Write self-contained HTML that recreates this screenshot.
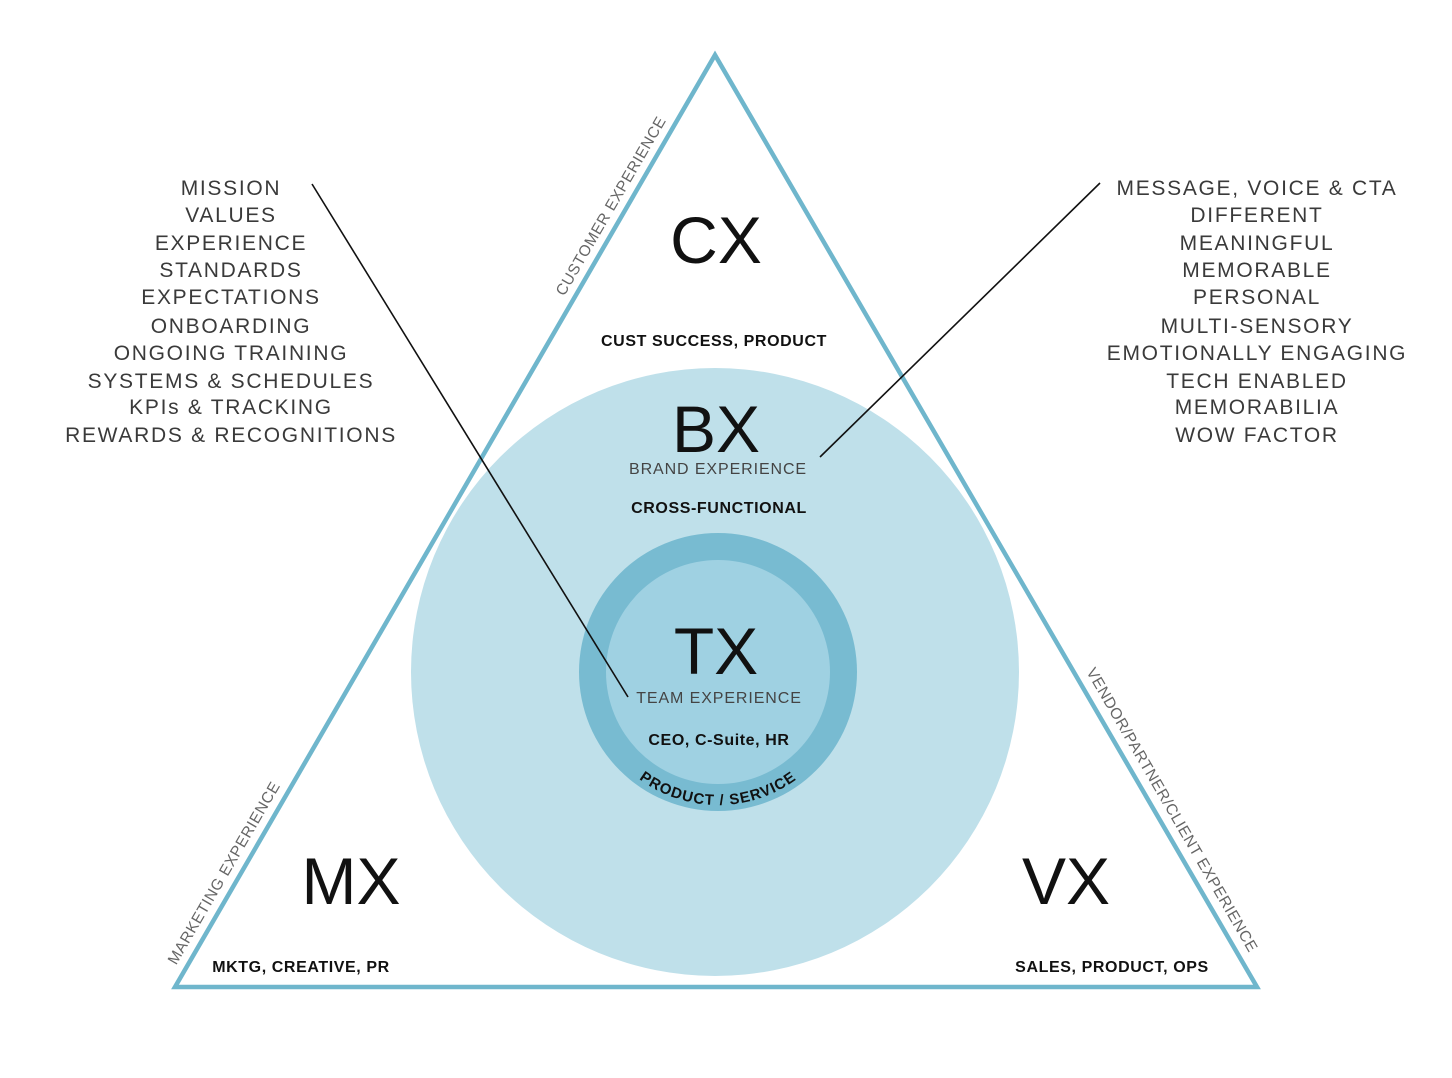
<!DOCTYPE html>
<html><head><meta charset="utf-8"><style>
html,body{margin:0;padding:0;background:#fff;}
svg{display:block;}
.t{font-family:"Liberation Sans",sans-serif;fill:#3a3a3a;font-size:21px;text-anchor:middle;letter-spacing:1.7px;}
.big{font-family:"Liberation Sans",sans-serif;fill:#111;font-size:66px;text-anchor:middle;font-weight:normal;}
.b{font-family:"Liberation Sans",sans-serif;fill:#111;font-size:16px;font-weight:bold;text-anchor:middle;letter-spacing:0.6px;}
.s{font-family:"Liberation Sans",sans-serif;fill:#444;font-size:16px;text-anchor:middle;letter-spacing:0.9px;}
.e{font-family:"Liberation Sans",sans-serif;fill:#666;font-size:15.5px;text-anchor:middle;letter-spacing:0.6px;}
</style></head><body>
<svg width="1452" height="1078" viewBox="0 0 1452 1078" xmlns="http://www.w3.org/2000/svg">
<circle cx="715" cy="672" r="304" fill="#bfe0ea"/>
<circle cx="718" cy="672" r="139" fill="#78bbd1"/>
<circle cx="718" cy="672" r="112" fill="#9fd1e2"/>
<polygon points="715,55 175,987 1257,987" fill="none" stroke="#6fb6cc" stroke-width="4.5" stroke-linejoin="miter"/>
<line x1="312" y1="184" x2="628" y2="697" stroke="#111" stroke-width="1.6"/>
<line x1="1100" y1="183" x2="820" y2="457" stroke="#111" stroke-width="1.6"/>
<text class="big" x="716" y="263">CX</text>
<text class="big" x="716" y="452">BX</text>
<text class="big" x="716" y="674">TX</text>
<text class="big" x="351" y="904">MX</text>
<text class="big" x="1066" y="904">VX</text>
<text class="b" x="714" y="346">CUST SUCCESS, PRODUCT</text>
<text class="s" x="718" y="474">BRAND EXPERIENCE</text>
<text class="b" x="719" y="513">CROSS-FUNCTIONAL</text>
<text class="s" x="719" y="703">TEAM EXPERIENCE</text>
<text class="b" x="719" y="745">CEO, C-Suite, HR</text>
<text class="b" x="301" y="972">MKTG, CREATIVE, PR</text>
<text class="b" x="1112" y="972">SALES, PRODUCT, OPS</text>
<defs><path id="arc" d="M585,672 A133,133 0 0 0 851,672"/></defs>
<text class="b" style="font-size:15px;letter-spacing:1px"><textPath href="#arc" startOffset="50%">PRODUCT / SERVICE</textPath></text>
<text class="e" transform="translate(611,206) rotate(-59.9)" y="5">CUSTOMER EXPERIENCE</text>
<text class="e" transform="translate(224,873) rotate(-59.9)" y="5">MARKETING EXPERIENCE</text>
<text class="e" transform="translate(1172,810) rotate(59.9)" y="5">VENDOR/PARTNER/CLIENT EXPERIENCE</text>
<g class="t">
<text x="231" y="195">MISSION</text>
<text x="231" y="222">VALUES</text>
<text x="231" y="250">EXPERIENCE</text>
<text x="231" y="277">STANDARDS</text>
<text x="231" y="304">EXPECTATIONS</text>
<text x="231" y="333">ONBOARDING</text>
<text x="231" y="360">ONGOING TRAINING</text>
<text x="231" y="388">SYSTEMS &amp; SCHEDULES</text>
<text x="231" y="414">KPIs &amp; TRACKING</text>
<text x="231" y="442">REWARDS &amp; RECOGNITIONS</text>
<text x="1257" y="195">MESSAGE, VOICE &amp; CTA</text>
<text x="1257" y="222">DIFFERENT</text>
<text x="1257" y="250">MEANINGFUL</text>
<text x="1257" y="277">MEMORABLE</text>
<text x="1257" y="304">PERSONAL</text>
<text x="1257" y="333">MULTI-SENSORY</text>
<text x="1257" y="360">EMOTIONALLY ENGAGING</text>
<text x="1257" y="388">TECH ENABLED</text>
<text x="1257" y="414">MEMORABILIA</text>
<text x="1257" y="442">WOW FACTOR</text>
</g>
</svg>
</body></html>
